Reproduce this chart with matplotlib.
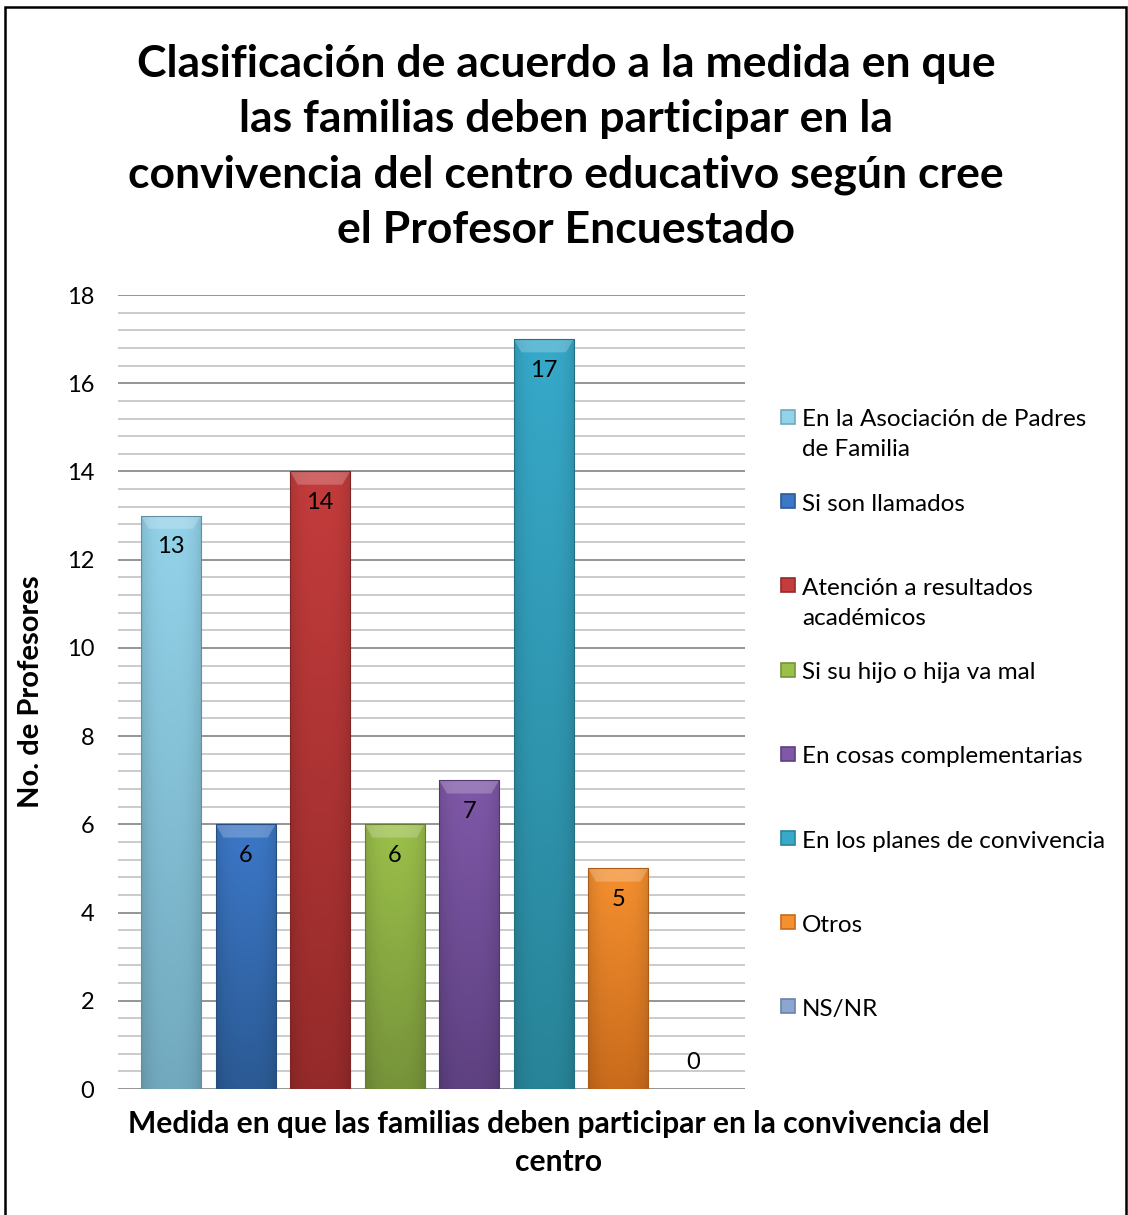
import matplotlib
matplotlib.use("Agg")
import matplotlib.pyplot as plt
import numpy as np
from matplotlib.patches import Rectangle, Polygon
from matplotlib.colors import to_rgb

categories = [
    "En la Asociación de Padres\nde Familia",
    "Si son llamados",
    "Atención a resultados\nacadémicos",
    "Si su hijo o hija va mal",
    "En cosas complementarias",
    "En los planes de convivencia",
    "Otros",
    "NS/NR",
]
values = [13, 6, 14, 6, 7, 17, 5, 0]
top_colors = ["#93D3EA", "#3C78C8", "#C43C3C", "#9BC04A", "#7F58A8", "#37A9CA", "#F5902F", "#8DA6D0"]
bot_colors = ["#72A9BE", "#2B5A94", "#952A2A", "#76933A", "#5E4181", "#288498", "#C96B1C", "#6A82AA"]
y_ticks = [0, 2, 4, 6, 8, 10, 12, 14, 16, 18]

title = ("Clasificación de acuerdo a la medida en que\nlas familias deben participar en la\n"
         "convivencia del centro educativo según cree\nel Profesor Encuestado")
xlabel = "Medida en que las familias deben participar en la convivencia del\ncentro"
ylabel = "No. de Profesores"

plt.rcParams['font.family'] = ['Lato', 'DejaVu Sans']

W, H = 1128, 1215
fig = plt.figure(figsize=(W / 100, H / 100), dpi=100)
fig.patch.set_facecolor("white")

# outer frame
fig.patches.append(Rectangle((5 / W, -0.01), (1126 - 5) / W, 1 - 7 / H + 0.01,
                             transform=fig.transFigure, fill=False, edgecolor="black",
                             linewidth=1.8))

ax = fig.add_axes([118 / W, 1 - 1089 / H, (745 - 118) / W, (1089 - 295) / H])
x = np.arange(len(values))
ax.set_xlim(-0.711, 7.70)
ax.set_ylim(0, 18)
for s in ax.spines.values():
    s.set_visible(False)
ax.set_yticks(y_ticks)
ax.set_yticks(np.arange(0, 18.01, 0.4), minor=True)
ax.tick_params(axis='y', which='both', length=0, labelsize=17, pad=17)
ax.tick_params(axis='x', which='both', length=0, labelbottom=False)
ax.grid(axis='y', which='minor', color="#BDBDBD", linewidth=1.1, zorder=0)
ax.grid(axis='y', which='major', color="#8C8C8C", linewidth=1.3, zorder=0)
ax.set_axisbelow(True)

bars = ax.bar(x, values, width=0.805, facecolor="none", edgecolor="none", zorder=3)

nx, ny = 60, 100
hx = np.linspace(-1, 1, nx)
hfac = 1 - 0.12 * np.abs(hx) ** 3
for b, tc, bc in zip(bars, top_colors, bot_colors):
    h = b.get_height()
    if h <= 0:
        continue
    t = np.array(to_rgb(tc))
    bo = np.array(to_rgb(bc))
    fr = np.linspace(0, 1, ny)[:, None, None]
    img = t * (1 - fr) + bo * fr
    img = img * hfac[None, :, None]
    img = np.clip(img, 0, 1)
    bx = b.get_x()
    bw = b.get_width()
    im = ax.imshow(img, extent=[bx, bx + bw, 0, h], origin='upper', aspect='auto',
                   zorder=3, interpolation='bilinear')
    im.set_clip_path(b)
    # bevel top highlight (trapezoid)
    bev_x = bw * 0.13
    bev_y = 0.3
    ax.add_patch(Polygon([(bx, h), (bx + bw, h), (bx + bw - bev_x, h - bev_y),
                          (bx + bev_x, h - bev_y)], closed=True, facecolor="white",
                         alpha=0.22, edgecolor="none", zorder=4))
    ax.add_patch(Rectangle((bx, 0), bw, h, facecolor="none", edgecolor=bo * 0.85,
                           linewidth=0.8, zorder=4))

for b, v in zip(bars, values):
    cx = b.get_x() + b.get_width() / 2
    if v > 0:
        ax.annotate(str(v), (cx, v), xytext=(0, -22.3), textcoords='offset points',
                    ha='center', va='center', fontsize=17, color='black', zorder=5)
    else:
        ax.annotate(str(v), (cx, v), xytext=(0, 19), textcoords='offset points',
                    ha='center', va='center', fontsize=17, color='black', zorder=5)

ax.set_xlim(-0.711, 7.70)
ax.set_ylim(0, 18)

fig.text(566 / W, 1 - 147 / H, title, ha='center', va='center', fontsize=32.0,
         fontweight='bold', linespacing=1.46)
fig.text(559 / W, 1 - 1143 / H, xlabel, ha='center', va='center', fontsize=21.6,
         fontweight='bold', linespacing=1.47)
fig.text(31 / W, 1 - 692 / H, ylabel, ha='center', va='center', rotation=90,
         fontsize=21, fontweight='bold')

# legend
for i, (lab, tc, bc) in enumerate(zip(categories, top_colors, bot_colors)):
    yc = 417 + 84.2 * i
    sz = 14
    fig.patches.append(Rectangle((781 / W, 1 - (yc + sz / 2) / H), sz / W, sz / H,
                                 transform=fig.transFigure, facecolor=tc,
                                 edgecolor=bc, linewidth=1.2))
    fig.text(802 / W, 1 - (yc - 7.5) / H, lab, ha='left', va='top', fontsize=17.5,
             linespacing=1.52)

fig.savefig("out.png", dpi=100, facecolor="white")
